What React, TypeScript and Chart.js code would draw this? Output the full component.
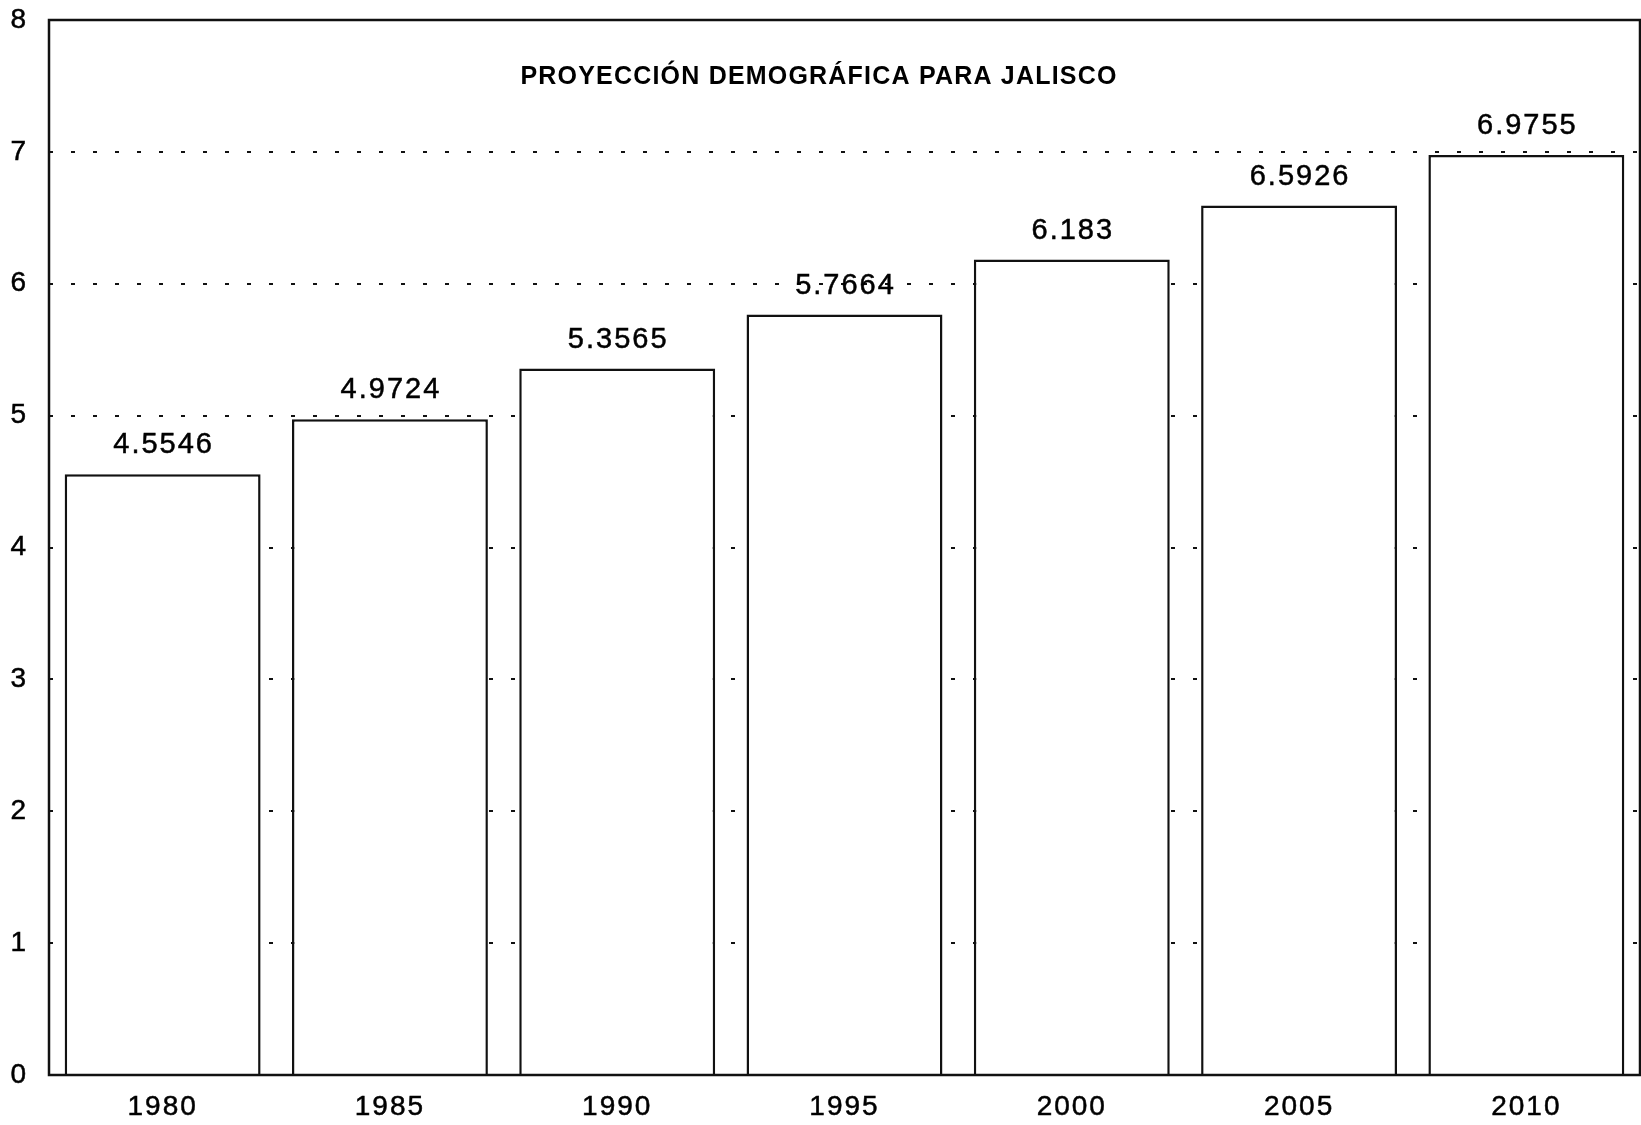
import React, { useEffect, useRef } from "react";
import { Chart, registerables } from "chart.js";

Chart.register(...registerables);

const categories = ["1980", "1985", "1990", "1995", "2000", "2005", "2010"];
const values = [4.5546, 4.9724, 5.3565, 5.7664, 6.183, 6.5926, 6.9755];
const valueLabels = ["4.5546", "4.9724", "5.3565", "5.7664", "6.183", "6.5926", "6.9755"];
const yTicks = [0, 1, 2, 3, 4, 5, 6, 7, 8];
const titleText = "PROYECCIÓN DEMOGRÁFICA PARA JALISCO";

const FONT = '"Liberation Sans", Arial, Helvetica, sans-serif';

export default function App() {
  const ref = useRef<HTMLCanvasElement | null>(null);

  useEffect(() => {
    if (!ref.current) return;

    const spacingPlugin = {
      id: "spacing",
      beforeDraw(chart: any) {
        chart.ctx.letterSpacing = "2px";
      },
      afterDraw(chart: any) {
        chart.ctx.letterSpacing = "0px";
      },
    };

    const overlayPlugin = {
      id: "overlay",
      afterDatasetsDraw(chart: any) {
        const ctx = chart.ctx;
        const meta = chart.getDatasetMeta(0);
        ctx.save();
        ctx.fillStyle = "#000";
        ctx.strokeStyle = "#000";
        ctx.lineWidth = 0.5;
        ctx.font = `29px ${FONT}`;
        ctx.letterSpacing = "2px";
        ctx.textAlign = "center";
        ctx.textBaseline = "alphabetic";
        meta.data.forEach((bar: any, i: number) => {
          ctx.fillText(valueLabels[i], bar.x + 1, bar.y - 21);
          ctx.strokeText(valueLabels[i], bar.x + 1, bar.y - 21);
        });
        ctx.restore();
      },
      afterDraw(chart: any) {
        const ctx = chart.ctx;
        const a = chart.chartArea;
        ctx.save();
        ctx.strokeStyle = "#111";
        ctx.lineWidth = 2.5;
        ctx.strokeRect(a.left, a.top, a.right - a.left, a.bottom - a.top);
        ctx.fillStyle = "#000";
        ctx.font = `bold 25px ${FONT}`;
        ctx.letterSpacing = "1.2px";
        ctx.textAlign = "center";
        ctx.textBaseline = "alphabetic";
        ctx.fillText(titleText, 819, 84);
        ctx.restore();
      },
    };

    const chart = new Chart(ref.current, {
      type: "bar",
      data: {
        labels: categories,
        datasets: [
          {
            data: values,
            backgroundColor: "#ffffff",
            borderColor: "#111111",
            borderWidth: 2.5,
            barPercentage: 0.862,
            categoryPercentage: 1,
          },
        ],
      },
      options: {
        responsive: false,
        animation: false,
        layout: { padding: { left: 0, top: 20, right: 1, bottom: 0 } },
        plugins: {
          legend: { display: false },
          tooltip: { enabled: false },
          title: { display: false },
        },
        scales: {
          x: {
            grid: { display: false, drawTicks: false },
            border: { display: false },
            ticks: {
              color: "#000",
              font: { family: FONT, size: 28 },
              padding: 15,
              textStrokeColor: "#000",
              textStrokeWidth: 0.5,
            },
            afterFit(scale: any) {
              scale.height = 50;
              scale.paddingLeft = 0;
              scale.paddingRight = 0;
            },
          },
          y: {
            min: 0,
            max: 8,
            afterBuildTicks(scale: any) {
              scale.ticks = yTicks.map((v) => ({ value: v }));
            },
            grid: {
              color: "#111",
              lineWidth: 2,
              drawTicks: false,
            },
            border: { display: false, dash: [4, 18] },
            ticks: {
              color: "#000",
              font: { family: FONT, size: 28 },
              padding: 21,
              textStrokeColor: "#000",
              textStrokeWidth: 0.5,
            },
            afterFit(scale: any) {
              scale.width = 49;
              scale.paddingTop = 0;
              scale.paddingBottom = 0;
            },
          },
        },
      },
      plugins: [spacingPlugin, overlayPlugin],
    } as any);

    return () => chart.destroy();
  }, []);

  return (
    <div style={{ position: "absolute", left: 0, top: 0, width: 1641, height: 1125 }}>
      <canvas ref={ref} width={1641} height={1125} style={{ display: "block" }} />
    </div>
  );
}
